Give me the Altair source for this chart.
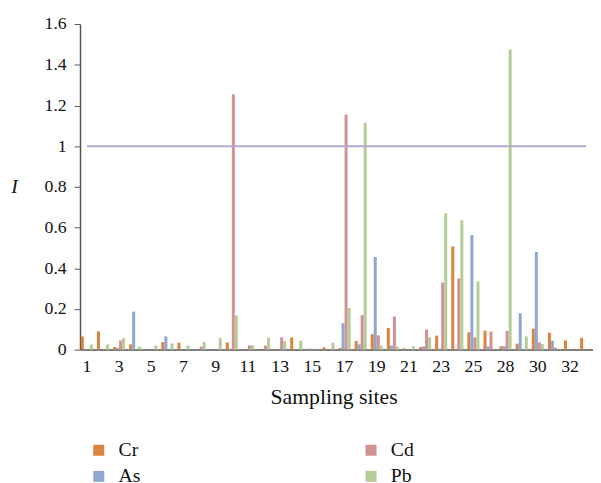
import altair as alt
import pandas as pd

# Sampling sites (site 27 absent)
sites = [str(s) for s in list(range(1, 27)) + list(range(28, 34))]
shown_labels = ["1", "3", "5", "7", "9", "11", "13", "15", "17", "19", "21",
                "23", "25", "28", "30", "32"]

metals = ["Cr", "As", "Cd", "Pb"]
metal_colors = ["#D9843F", "#8FA8CF", "#D09393", "#B5CC96"]

cr = [0.065, 0.090, 0.013, 0.026, 0.000, 0.037, 0.034, 0.000, 0.000, 0.035,
      0.000, 0.000, 0.003, 0.060, 0.000, 0.011, 0.008, 0.042, 0.076, 0.106,
      0.006, 0.013, 0.069, 0.507, 0.085, 0.093, 0.017, 0.029, 0.103, 0.083,
      0.045, 0.058]
as_ = [0.000, 0.000, 0.008, 0.187, 0.000, 0.065, 0.000, 0.000, 0.000, 0.005,
       0.000, 0.000, 0.000, 0.000, 0.005, 0.000, 0.130, 0.026, 0.455, 0.020,
       0.000, 0.016, 0.005, 0.000, 0.563, 0.016, 0.017, 0.179, 0.480, 0.044,
       0.000, 0.000]
cd = [0.000, 0.000, 0.045, 0.000, 0.000, 0.000, 0.000, 0.015, 0.000, 1.255,
      0.021, 0.020, 0.060, 0.000, 0.000, 0.000, 1.155, 0.170, 0.070, 0.163,
      0.000, 0.098, 0.330, 0.350, 0.060, 0.089, 0.092, 0.000, 0.035, 0.010,
      0.000, 0.000]
pb = [0.025, 0.025, 0.056, 0.015, 0.020, 0.031, 0.020, 0.038, 0.058, 0.168,
      0.021, 0.058, 0.042, 0.045, 0.005, 0.035, 0.205, 1.115, 0.020, 0.015,
      0.016, 0.060, 0.670, 0.636, 0.335, 0.000, 1.475, 0.065, 0.027, 0.000,
      0.000, 0.000]

threshold = 1.0

rows = []
for name, vals in [("Cr", cr), ("As", as_), ("Cd", cd), ("Pb", pb)]:
    for s, v in zip(sites, vals):
        rows.append({"site": s, "metal": name, "I": v})
df = pd.DataFrame(rows)

line_df = pd.DataFrame({"site": [sites[0], sites[-1]], "I": [threshold, threshold]})

FONT = "Liberation Serif"
label_list = "[" + ",".join("'" + l + "'" for l in shown_labels) + "]"

x_scale = alt.Scale(paddingInner=0.25, paddingOuter=0.05)

x_enc = alt.X(
    "site:N", sort=sites, scale=x_scale,
    axis=alt.Axis(
        title="Sampling sites", labelAngle=0, ticks=False, tickSize=0,
        labelExpr=f"indexof({label_list}, datum.label) >= 0 ? datum.label : ''",
        labelFont=FONT, labelFontSize=18, labelColor="#111", labelPadding=8,
        titleFont=FONT, titleFontSize=22, titleFontWeight="normal",
        titleColor="#111", titleY=55, titleBaseline="alphabetic",
        titleX=257,
        domainColor="#555", domainWidth=1.5, labelOverlap=False,
    ),
)

y_scale = alt.Scale(domain=[0, 1.6], nice=False)
y_axis = alt.Axis(
    title="I", titleAngle=0, titleX=-67, titleY=165, titleAlign="center",
    titleBaseline="middle", titleFont=FONT, titleFontSize=20,
    titleFontStyle="italic", titleFontWeight="normal", titleColor="#111",
    values=[0, 0.2, 0.4, 0.6, 0.8, 1.0, 1.2, 1.4, 1.6], format="~g",
    labelFont=FONT, labelFontSize=18, labelColor="#111", labelPadding=8,
    tickSize=6, tickColor="#555", domainColor="#555", domainWidth=1.5,
    grid=False,
)

bars = alt.Chart(df).mark_bar().encode(
    x=x_enc,
    xOffset=alt.XOffset("metal:N", sort=metals,
                        scale=alt.Scale(paddingInner=0, paddingOuter=0)),
    y=alt.Y("I:Q", scale=y_scale, axis=y_axis),
    color=alt.Color(
        "metal:N",
        scale=alt.Scale(domain=metals, range=metal_colors),
        legend=alt.Legend(
            title=None, orient="none", legendX=9, legendY=422, columns=2,
            columnPadding=223, rowPadding=6.5, symbolType="square",
            symbolSize=125, symbolStrokeWidth=0, labelOffset=10,
            labelFont=FONT, labelFontSize=20, labelColor="#111",
        ),
    ),
)

rule = alt.Chart(line_df).mark_line(color="#B6A9CB", strokeWidth=2).encode(
    x=alt.X("site:N", sort=sites, scale=x_scale),
    y=alt.Y("I:Q", scale=y_scale),
)

chart = alt.layer(bars, rule).properties(
    width=520, height=330,
    autosize=alt.AutoSizeParams(type="none"),
    padding={"left": 73, "top": 13, "right": 0, "bottom": 138},
).configure_view(stroke=None)

chart.save("out.html", embed_options={"renderer": "svg", "actions": False})
